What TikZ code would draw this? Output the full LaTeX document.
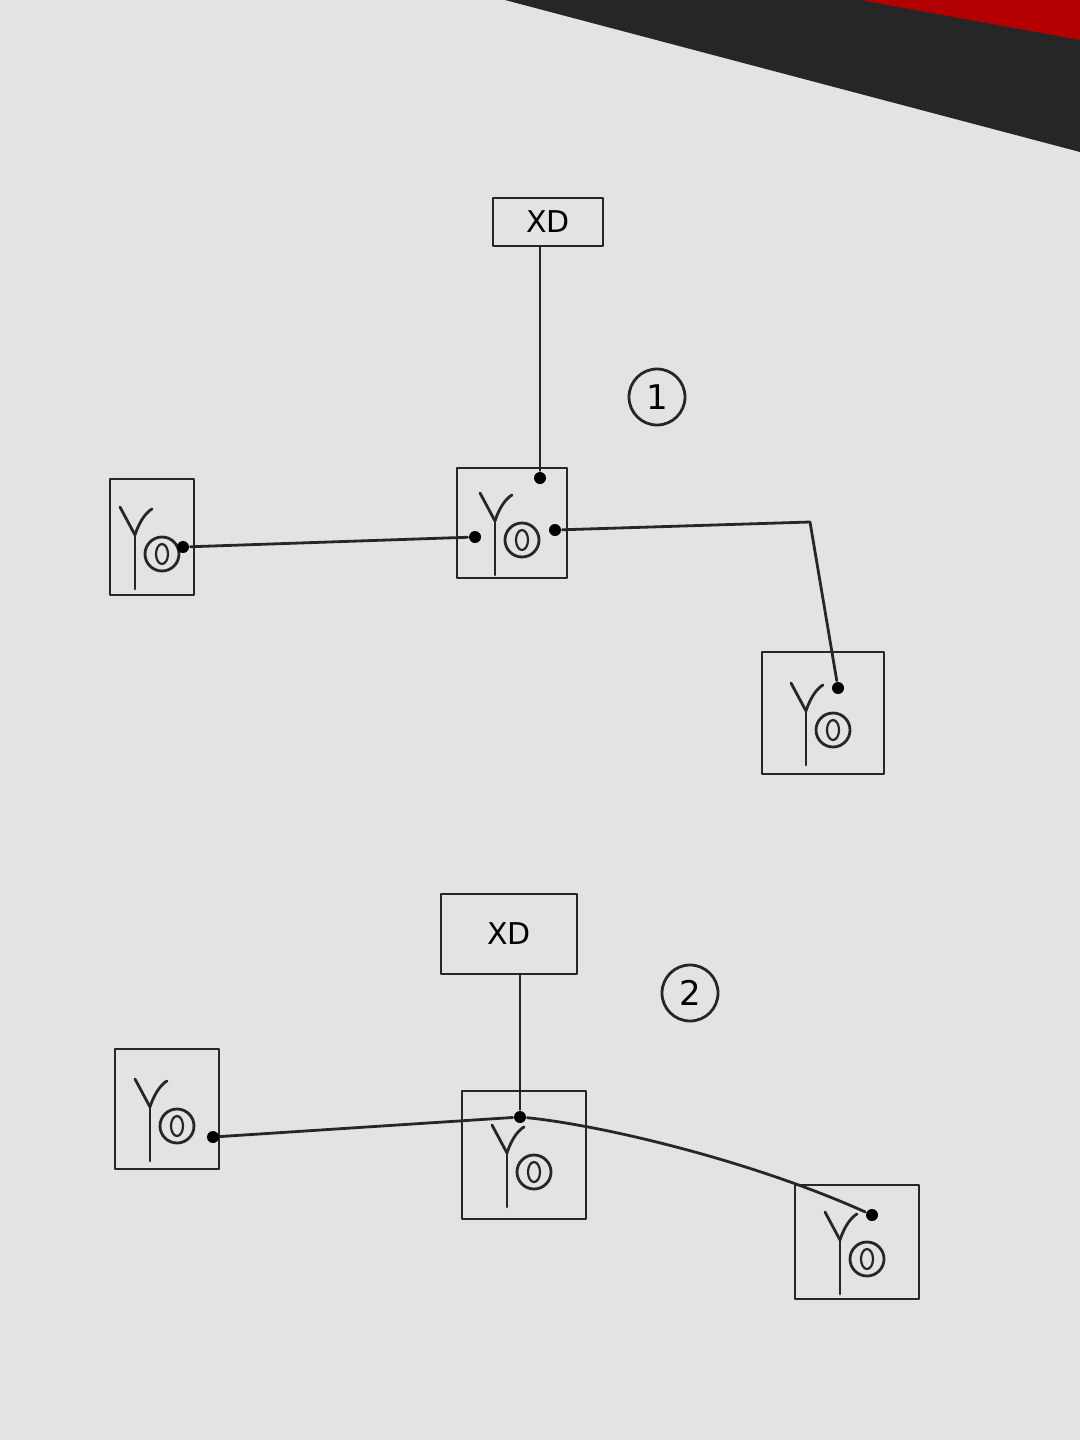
\documentclass[tikz,border=0pt]{standalone}
\usepackage{fontspec}
\setmainfont{DejaVu Sans}
\begin{document}
\begin{tikzpicture}[x=0.5pt,y=-0.5pt,line width=1.4pt,line cap=round,line join=round,
  box/.style={draw=black!85,rectangle,inner sep=0pt},
  dot/.style={circle,fill=black,inner sep=0pt,minimum size=6pt},
  xd/.style={draw=black!85,rectangle,inner sep=0pt,font=\fontsize{15}{15}\selectfont},
  num/.style={draw=black!85,circle,inner sep=0pt,minimum size=28pt,font=\fontsize{17}{17}\selectfont},
  ink/.style={draw=black!85},
  yo/.pic={
    \draw[ink] (-17,52) -- (-17,-2);
    \draw[ink] (-17,-2) -- (-32,-30);
    \draw[ink] (-17,-2) .. controls (-12,-18) and (-4,-26) .. (0,-28);
    \draw[ink] (10,17) circle (17);
    \draw[ink,line width=1.1pt] (10,17) ellipse (6 and 10);
  }]
\useasboundingbox (0,0) rectangle (1080,1440);
\fill[gray!22!white] (0,0) rectangle (1080,1440);
\fill[black!85] (505,0) -- (1080,0) -- (1080,152) -- cycle;
\fill[red!70!black] (860,0) -- (1080,0) -- (1080,40) -- cycle;

% diagram 1
\node[xd,minimum width=55pt,minimum height=24pt] (xd1) at (548,222) {XD};
\node[num] (n1) at (657,397) {1};
\node[box,minimum width=55pt,minimum height=55pt] (a) at (512,523) {};
\pic at (a.center) {yo};
\node[box,minimum width=42pt,minimum height=58pt] (b) at (152,537) {};
\pic at (b.center) {yo};
\node[box,minimum width=61pt,minimum height=61pt] (c) at (823,713) {};
\pic at (c.center) {yo};
\node[dot] (a1) at (540,478) {};
\node[dot] (a2) at (475,537) {};
\node[dot] (a3) at (555,530) {};
\node[dot] (b1) at (183,547) {};
\node[dot] (c1) at (838,688) {};
\coordinate (k1) at (810,522);
\draw[ink] (xd1.south -| a1) -- (a1);
\draw[ink] (b1) -- (a2);
\draw[ink] (a3) -- (k1) -- (c1);

% diagram 2
\node[xd,minimum width=68pt,minimum height=40pt] (xd2) at (509,934) {XD};
\node[num] (n2) at (690,993) {2};
\node[box,minimum width=62pt,minimum height=64pt] (d) at (524,1155) {};
\pic at (d.center) {yo};
\node[box,minimum width=52pt,minimum height=60pt] (e) at (167,1109) {};
\pic at (e.center) {yo};
\node[box,minimum width=62pt,minimum height=57pt] (f) at (857,1242) {};
\pic at (f.center) {yo};
\node[dot] (d1) at (520,1117) {};
\node[dot] (e1) at (213,1137) {};
\node[dot] (f1) at (872,1215) {};
\draw[ink] (xd2.south -| d1) -- (d1);
\draw[ink] (e1) -- (d1);
\draw[ink] (d1) .. controls (600,1125) and (750,1160) .. (f1);
\end{tikzpicture}
\end{document}
